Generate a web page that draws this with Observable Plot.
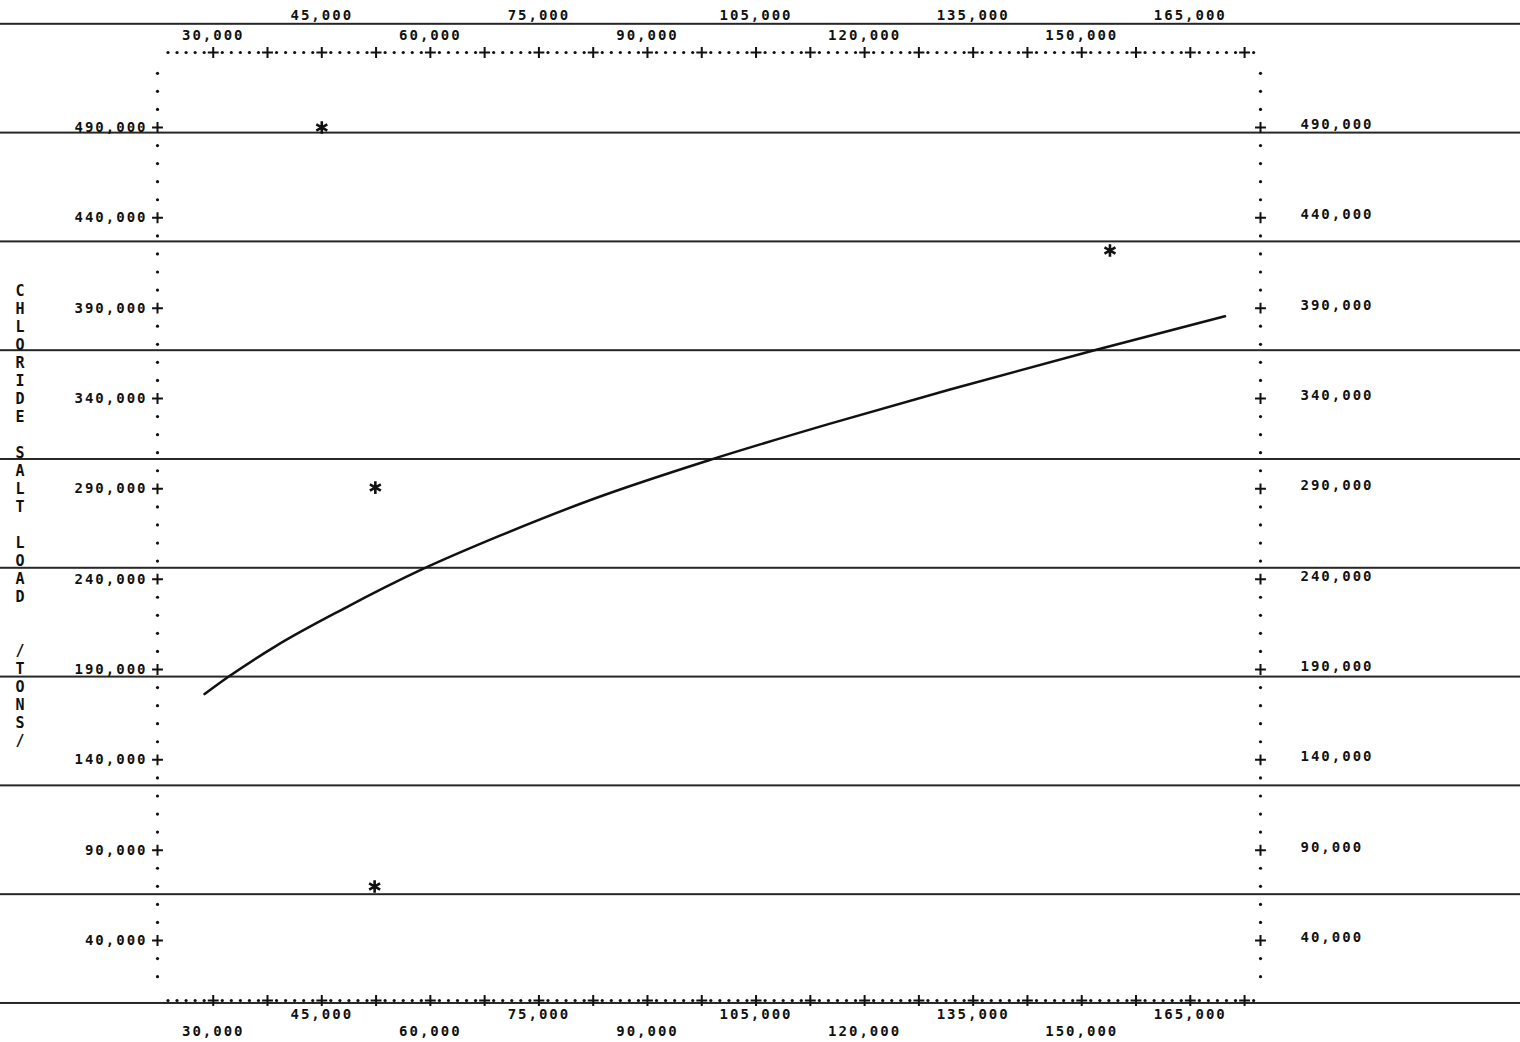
<!DOCTYPE html>
<html>
<head>
<meta charset="utf-8">
<script src="https://cdn.jsdelivr.net/npm/d3@7"></script>
<script src="https://cdn.jsdelivr.net/npm/@observablehq/plot@0.6"></script>
<style>
  html, body { margin: 0; padding: 0; }
  body {
    width: 1520px; height: 1042px; overflow: hidden; background-color: #fff;
    /* ruled printer paper */
    background-image: linear-gradient(to bottom, transparent 107.2px, #262626 107.2px, #262626 108.8px);
    background-size: 100% 108.8px;
    background-position: 0 -84px;
    background-repeat: repeat-y;
  }
  #chart svg { display: block; }
</style>
</head>
<body>
<div id="chart"></div>
<script>
// ---- data ----
const curveX = [28800, 32000, 38700, 48000, 58900, 69700, 82600, 98400, 115000, 131800, 151500, 169800];
const curveY = [176400, 185700, 203100, 223600, 245500, 264200, 284500, 305700, 325800, 345000, 366400, 385500];

const pointX = [45000, 153900, 52400, 52300];
const pointY = [490000, 421900, 290700, 69900];

// tick labels
const yTicks = [40000, 90000, 140000, 190000, 240000, 290000, 340000, 390000, 440000, 490000];
const xLabelsRow1 = [45000, 75000, 105000, 135000, 165000];
const xLabelsRow2 = [30000, 60000, 90000, 120000, 150000];
const yTitle = "CHLORIDE SALT LOAD  /TONS/";

// printer axis characters
const xCrosses = d3.range(30000, 173000, 7500);
const xDots = d3.range(23750, 174000, 1250).filter(v => (v - 30000) % 7500 !== 0);
const yDots = d3.range(20000, 521000, 10000).filter(v => (v - 40000) % 50000 !== 0);

const curve = curveX.map((x, i) => ({x, y: curveY[i]}));
const points = pointX.map((x, i) => ({x, y: pointY[i]}));
const fmt = d3.format(",");

const font = "'DejaVu Sans Mono', monospace";
const ink = "#111";
const labelStyle = {fontSize: 14, fontWeight: 600, fill: ink};
const cross = {symbol: "plus", r: 3.6, stroke: ink, strokeWidth: 2};

const chart = Plot.plot({
  width: 1520,
  height: 1042,
  marginLeft: 157,
  marginRight: 260,
  marginTop: 52,
  marginBottom: 42,
  x: {domain: [22300, 174700], axis: null},
  y: {domain: [6800, 531500], axis: null},
  style: {background: "transparent", overflow: "visible", fontFamily: font, fontSize: "14px", letterSpacing: "2px", color: ink},
  marks: [
    // left and right dotted axes
    Plot.dot(yDots, {y: d => d, frameAnchor: "left", r: 1.6, fill: ink, stroke: "none"}),
    Plot.dot(yDots, {y: d => d, frameAnchor: "right", r: 1.6, fill: ink, stroke: "none"}),
    Plot.dot(yTicks, {y: d => d, frameAnchor: "left", ...cross}),
    Plot.dot(yTicks, {y: d => d, frameAnchor: "right", ...cross}),
    Plot.text(yTicks, {y: d => d, text: d => fmt(d), frameAnchor: "left", textAnchor: "end", dx: -10, ...labelStyle}),
    Plot.text(yTicks, {y: d => d, text: d => fmt(d), frameAnchor: "right", textAnchor: "start", dx: 40, dy: -3, ...labelStyle}),

    // top and bottom dotted axes
    Plot.dot(xDots, {x: d => d, frameAnchor: "top", r: 1.6, fill: ink, stroke: "none"}),
    Plot.dot(xDots, {x: d => d, frameAnchor: "bottom", r: 1.6, fill: ink, stroke: "none"}),
    Plot.dot(xCrosses, {x: d => d, frameAnchor: "top", ...cross}),
    Plot.dot(xCrosses, {x: d => d, frameAnchor: "bottom", ...cross}),

    Plot.text(xLabelsRow1, {x: d => d, text: d => fmt(d), frameAnchor: "top", dy: -42, ...labelStyle}),
    Plot.text(xLabelsRow2, {x: d => d, text: d => fmt(d), frameAnchor: "top", dy: -22, ...labelStyle}),
    Plot.text(xLabelsRow1, {x: d => d, text: d => fmt(d), frameAnchor: "bottom", dy: 18, ...labelStyle}),
    Plot.text(xLabelsRow2, {x: d => d, text: d => fmt(d), frameAnchor: "bottom", dy: 35, ...labelStyle}),

    // vertical axis title, one character per printer row
    Plot.text([yTitle], {text: d => d.split("").join("\n"), frameAnchor: "left", dx: -142, dy: -11,
      fontSize: 15, fontWeight: "bold", lineHeight: 18 / 15, fill: ink}),

    // fitted curve
    Plot.line(curve, {x: "x", y: "y", curve: "monotone-x", stroke: ink, strokeWidth: 2.5}),

    // observations
    Plot.dot(points, {x: "x", y: "y", symbol: "asterisk", r: 6, stroke: ink, strokeWidth: 2.6})
  ]
});
document.getElementById("chart").appendChild(chart);
</script>
</body>
</html>
